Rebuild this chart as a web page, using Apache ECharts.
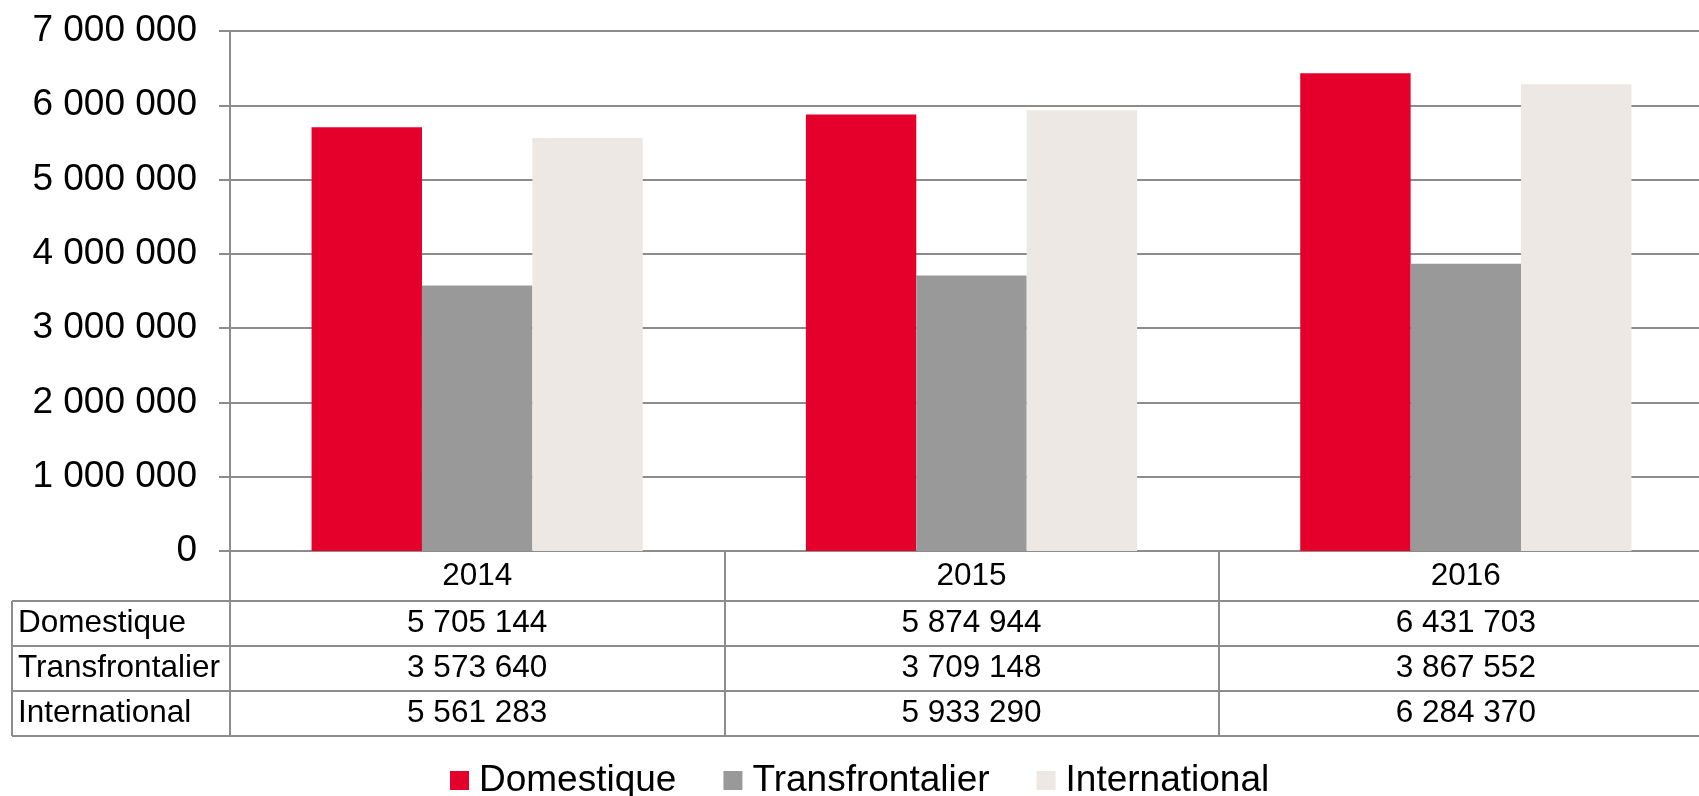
<!DOCTYPE html>
<html>
<head>
<meta charset="utf-8">
<script src="https://cdn.jsdelivr.net/npm/echarts@6/dist/echarts.min.js"></script>
<style>
    html, body { margin: 0; padding: 0; background: #fff; }
    #main { width: 1699px; height: 796px; }
</style>
</head>
<body>
<div id="main"></div>
<script>
    // données
    var years = ['2014', '2015', '2016'];
    var seriesNames = ['Domestique', 'Transfrontalier', 'International'];
    var domestique = [5705144, 5874944, 6431703];
    var transfrontalier = [3573640, 3709148, 3867552];
    var international = [5561283, 5933290, 6284370];
    var yTicks = [0, 1000000, 2000000, 3000000, 4000000, 5000000, 6000000, 7000000];

    var colors = ['#E4002B', '#999999', '#EDE8E4'];
    var lineColor = '#8c8c8c';
    var font = "'Liberation Sans', Arial, sans-serif";

    // mise en page (le graphique dépasse à droite, comme l'original)
    var gridLeft = 230, gridTop = 31, gridBottomY = 551;
    var headH = 50, rowH = 45;
    var tableTop = gridBottomY + headH;

    function fmt(v) {
        return String(v).replace(/\B(?=(\d{3})+(?!\d))/g, ' ');
    }

    var rows = [domestique, transfrontalier, international];

    var myChart = echarts.init(document.getElementById('main'));

    // lignes + libellés du tableau
    var graphics = [];
    for (var i = 0; i <= rows.length; i++) {
        graphics.push({
            type: 'line',
            shape: { x1: 12, y1: tableTop + i * rowH, x2: 1699, y2: tableTop + i * rowH },
            style: { stroke: lineColor, lineWidth: 2 }
        });
    }
    graphics.push({
        type: 'line',
        shape: { x1: 12, y1: tableTop, x2: 12, y2: tableTop + rows.length * rowH },
        style: { stroke: lineColor, lineWidth: 2 }
    });
    for (var r = 0; r < seriesNames.length; r++) {
        graphics.push({
            type: 'text',
            x: 18,
            y: tableTop + r * rowH + rowH / 2,
            style: {
                text: seriesNames[r],
                fontSize: 31.5,
                fontFamily: font,
                fill: '#000',
                verticalAlign: 'middle',
                align: 'left'
            }
        });
    }

    var option = {
        animation: false,
        color: colors,
        textStyle: { fontFamily: font },
        grid: {
            left: gridLeft,
            top: gridTop,
            right: -14,
            bottom: 796 - gridBottomY,
            outerBoundsMode: 'none',
            containLabel: false
        },
        legend: {
            data: seriesNames,
            left: 445,
            top: 757,
            icon: 'rect',
            itemWidth: 19,
            itemHeight: 19,
            itemGap: 47,
            textStyle: {
                fontSize: 37,
                color: '#000',
                fontFamily: font,
                padding: [0, 0, 0, 5]
            }
        },
        xAxis: {
            type: 'category',
            data: years,
            axisLine: { show: true, lineStyle: { color: lineColor, width: 2 } },
            axisTick: {
                show: true,
                length: headH + rows.length * rowH,
                lineStyle: { color: lineColor, width: 2 }
            },
            axisLabel: {
                interval: 0,
                margin: 0,
                color: '#000',
                formatter: function (value, idx) {
                    var s = '{y|' + value + '}';
                    for (var k = 0; k < rows.length; k++) {
                        s += '\n{v|' + fmt(rows[k][idx]) + '}';
                    }
                    return s;
                },
                rich: {
                    y: { fontSize: 31.5, lineHeight: headH, fontFamily: font, color: '#000' },
                    v: { fontSize: 31.5, lineHeight: rowH, fontFamily: font, color: '#000' }
                }
            }
        },
        yAxis: {
            type: 'value',
            min: yTicks[0],
            max: yTicks[yTicks.length - 1],
            interval: yTicks[1] - yTicks[0],
            axisLine: { show: true, lineStyle: { color: lineColor, width: 2 } },
            axisTick: { show: true, length: 11, lineStyle: { color: lineColor, width: 2 } },
            splitLine: { show: true, lineStyle: { color: lineColor, width: 2 } },
            axisLabel: {
                fontSize: 37,
                color: '#000',
                fontFamily: font,
                margin: 33,
                formatter: function (v) { return fmt(v); }
            }
        },
        series: [
            { name: seriesNames[0], type: 'bar', data: domestique, barGap: 0, barCategoryGap: '33%' },
            { name: seriesNames[1], type: 'bar', data: transfrontalier, barGap: 0, barCategoryGap: '33%' },
            { name: seriesNames[2], type: 'bar', data: international, barGap: 0, barCategoryGap: '33%' }
        ],
        graphic: graphics
    };

    myChart.setOption(option);
</script>
</body>
</html>
